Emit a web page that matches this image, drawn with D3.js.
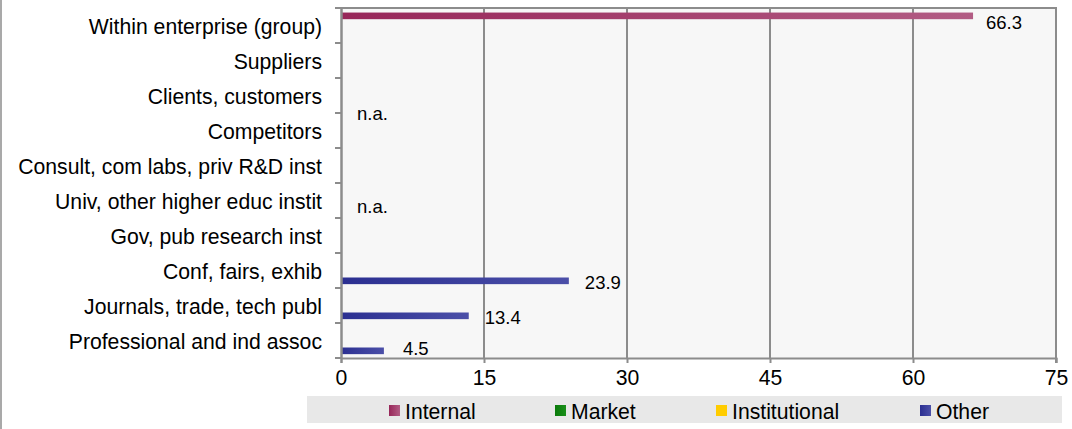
<!DOCTYPE html>
<html><head><meta charset="utf-8">
<script src="https://cdn.jsdelivr.net/npm/d3@7/dist/d3.min.js"></script>
<style>
html,body{margin:0;padding:0;background:#fff;}
svg{display:block;font-family:"Liberation Sans",Arial,sans-serif;}
</style></head>
<body>
<svg id="chart" width="1072" height="429"></svg>
<script>
const categories = ["Within enterprise (group)","Suppliers","Clients, customers","Competitors","Consult, com labs, priv R&D inst","Univ, other higher educ instit","Gov, pub research inst","Conf, fairs, exhib","Journals, trade, tech publ","Professional and ind assoc"];
const seriesNames = ["Internal","Market","Institutional","Other"];
const internalValues = [66.3,null,null,null,null,null,null,null,null,null];
const marketValues = [null,null,null,null,null,null,null,null,null,null];
const institutionalValues = [null,null,null,null,null,null,null,null,null,null];
const otherValues = [null,null,null,null,null,null,null,23.9,13.4,4.5];
const xTicks = [0,15,30,45,60,75];
const naNotes = [{cat:"Clients, customers", text:"n.a."},{cat:"Univ, other higher educ instit", text:"n.a."}];

const seriesValues = [internalValues, marketValues, institutionalValues, otherValues];
const colors = {
  Internal:["#972659","#b25c84"],
  Market:["#0a7a0a","#1a8f1a"],
  Institutional:["#ffcc00","#ffcc00"],
  Other:["#2b2f91","#4b4fa8"]
};
const FONT = "Liberation Sans, Arial, sans-serif";
const BIG = 21.2, SMALL = 18.5;

const svg = d3.select("#chart");
const defs = svg.append("defs");
seriesNames.forEach((s,i)=>{
  const g = defs.append("linearGradient").attr("id","g"+i).attr("x1","0").attr("x2","1").attr("y1","0").attr("y2","0");
  g.append("stop").attr("offset","0%").attr("stop-color",colors[s][0]);
  g.append("stop").attr("offset","100%").attr("stop-color",colors[s][1]);
});

// left chart border
svg.append("line").attr("x1",1).attr("x2",1).attr("y1",0).attr("y2",429).attr("stroke","#8c8c8c").attr("stroke-width",1.5);

const L=341, R=1056, T=8, B=358;
const x = d3.scaleLinear().domain([0,75]).range([L,R]);
const y = d3.scaleBand().domain(categories).range([T,B]).padding(0);
const bw = y.bandwidth();
const ys = d3.scaleBand().domain(seriesNames).range([bw*0.13, bw*0.89]).padding(0);

svg.append("rect").attr("x",L).attr("y",T).attr("width",R-L).attr("height",B-T).attr("fill","#f7f7f7");

// gridlines
svg.append("g").selectAll("line").data(xTicks.filter(t=>t>0)).join("line")
  .attr("x1",d=>x(d)).attr("x2",d=>x(d)).attr("y1",T).attr("y2",B)
  .attr("stroke","#8c8c8c").attr("stroke-width",2);
// top border
svg.append("line").attr("x1",L).attr("x2",R+1).attr("y1",T).attr("y2",T).attr("stroke","#8c8c8c").attr("stroke-width",2);

// bars
seriesNames.forEach((s,i)=>{
  const data = categories.map((c,j)=>({c, v:seriesValues[i][j]})).filter(d=>d.v!=null);
  svg.append("g").selectAll("rect").data(data).join("rect")
    .attr("x",x(0)).attr("y",d=>y(d.c)+ys(s)).attr("width",d=>x(d.v)-x(0)).attr("height",ys.bandwidth())
    .attr("fill","url(#g"+i+")");
  const dx = s==="Internal" ? 13 : 16;
  const dy = s==="Internal" ? 7 : 2;
  svg.append("g").selectAll("text").data(data).join("text")
    .attr("x",d=>x(d.v)+dx+(x(d.v)-x(0)<60?3:0))
    .attr("y",d=>Math.min(y(d.c)+ys(s)+ys.bandwidth()/2+dy, B-10))
    .attr("dominant-baseline","central").attr("font-size",SMALL).attr("fill","#000")
    .text(d=>d.v.toFixed(1));
});

// n.a. notes
const naFrac = [1.0, 0.66];
svg.append("g").selectAll("text").data(naNotes).join("text")
  .attr("x",x(0)+16).attr("y",(d,i)=>y(d.cat)+bw*naFrac[i])
  .attr("dominant-baseline","central").attr("font-size",SMALL).text(d=>d.text);

// x axis
const xAxis = d3.axisBottom(x).tickValues(xTicks).tickSize(5).tickPadding(7).tickFormat(d3.format("d"));
const gx = svg.append("g").attr("transform",`translate(0,${B})`).call(xAxis);
gx.select(".domain").attr("stroke","#8c8c8c").attr("stroke-width",2);
gx.selectAll(".tick line").attr("stroke","#8c8c8c").attr("stroke-width",2);
gx.selectAll(".tick text").attr("font-size",BIG).attr("fill","#000").attr("font-family",FONT);

// y axis
const yAxis = d3.axisLeft(y).tickSize(0).tickPadding(19);
const gy = svg.append("g").attr("transform",`translate(${L},0)`).call(yAxis);
gy.select(".domain").attr("stroke","#8c8c8c").attr("stroke-width",2.5);
gy.selectAll(".tick text").attr("font-size",BIG).attr("fill","#000").attr("font-family",FONT)
  .attr("dy",null).attr("dominant-baseline","central").attr("transform","translate(0,1)");
// category boundary ticks
svg.append("g").selectAll("line").data(categories.concat(["__end"])).join("line")
  .attr("x1",L-6).attr("x2",L).attr("y1",(d,i)=>T+i*bw).attr("y2",(d,i)=>T+i*bw)
  .attr("stroke","#8c8c8c").attr("stroke-width",2);
// right border
svg.append("line").attr("x1",R).attr("x2",R).attr("y1",T).attr("y2",B+5).attr("stroke","#8c8c8c").attr("stroke-width",2);

// legend
const lg = svg.append("g");
lg.append("rect").attr("x",307).attr("y",396).attr("width",755).attr("height",27).attr("fill","#e8e8e8");
const legPos = {Internal:389, Market:555, Institutional:716, Other:920};
seriesNames.forEach((s,i)=>{
  const lx = legPos[s];
  lg.append("rect").attr("x",lx).attr("y",405).attr("width",11).attr("height",11).attr("fill","url(#g"+i+")");
  lg.append("text").attr("x",lx+16).attr("y",411).attr("dominant-baseline","central").attr("font-size",BIG).text(s);
});
</script>
</body></html>
